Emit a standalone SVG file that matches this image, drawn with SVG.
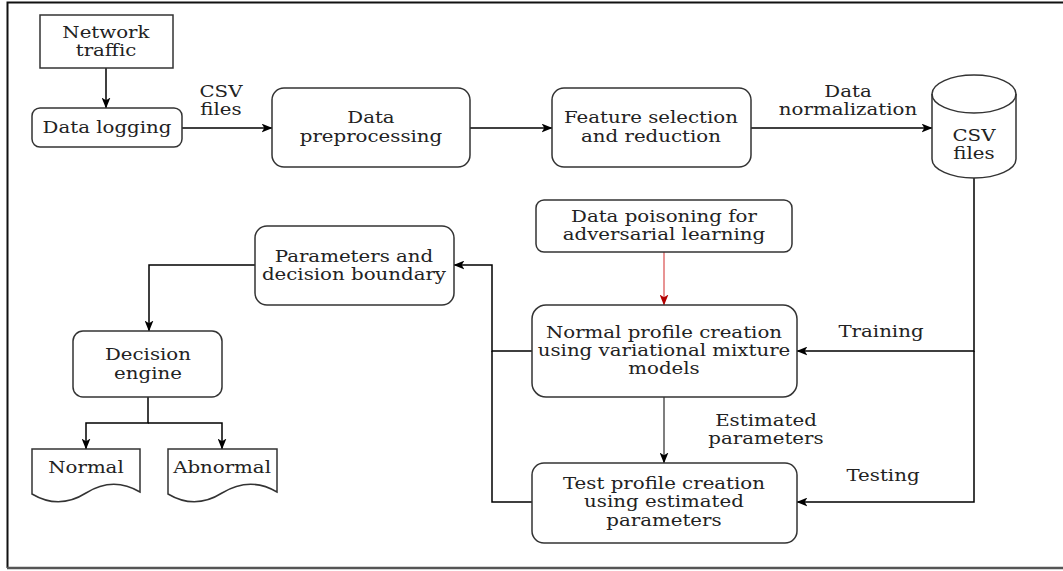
<svg xmlns="http://www.w3.org/2000/svg" width="1063" height="571" viewBox="0 0 1063 571">
<defs>
<style>
.box{fill:#fff;stroke:#333;stroke-width:1.5}
.t{font-family:"DejaVu Serif",serif;font-size:17.5px;fill:#222;text-anchor:middle;transform-box:fill-box;transform-origin:center;transform:scaleX(1.13)}
.c{fill:none;stroke:#000;stroke-width:1.5}
</style>
<marker id="ah" viewBox="0 0 10 8" markerWidth="11" markerHeight="9" refX="9.5" refY="4" orient="auto" markerUnits="userSpaceOnUse">
<path d="M0,0 L10,4 L0,8 L2.5,4 Z" fill="#000"/>
</marker>
<marker id="ahr" viewBox="0 0 10 8" markerWidth="11" markerHeight="9" refX="9.5" refY="4" orient="auto" markerUnits="userSpaceOnUse">
<path d="M0,0 L10,4 L0,8 L2.5,4 Z" fill="#b20000"/>
</marker>
</defs>
<rect width="1063" height="571" fill="#fff"/>
<g id="frame" fill="none">
<path d="M7.5,568 V2.5 H1063" stroke="#111" stroke-width="2"/>
<path d="M7,568 H1063" stroke="#555" stroke-width="2.5"/>
</g>
<g id="connectors">
<path class="c" d="M106,68 V108" marker-end="url(#ah)"/>
<path class="c" d="M182,128 H272" marker-end="url(#ah)"/>
<path class="c" d="M470,128 H552" marker-end="url(#ah)"/>
<path class="c" d="M751,128 H932" marker-end="url(#ah)"/>
<path class="c" d="M974,178 V351 H797" marker-end="url(#ah)"/>
<path class="c" d="M974,351 V502 H797" marker-end="url(#ah)"/>
<path d="M664,252 V305" fill="none" stroke="#e07070" stroke-width="1.5" marker-end="url(#ahr)"/>
<path d="M664,397 V463" fill="none" stroke="#555" stroke-width="1.5" marker-end="url(#ah)"/>
<path class="c" d="M532,351 H492 V265 H454" marker-end="url(#ah)"/>
<path class="c" d="M532,502 H492 V351"/>
<path class="c" d="M255,265 H149 V331" marker-end="url(#ah)"/>
<path class="c" d="M148,397 V423 H86 V449" marker-end="url(#ah)"/>
<path class="c" d="M148,423 H222 V449" marker-end="url(#ah)"/>
<text class="t" x="221" y="97">CSV</text>
<text class="t" x="221" y="115">files</text>
<text class="t" x="848" y="97">Data</text>
<text class="t" x="848" y="115">normalization</text>
<text class="t" x="881" y="337">Training</text>
<text class="t" x="766" y="426">Estimated</text>
<text class="t" x="766" y="444">parameters</text>
<text class="t" x="883" y="481">Testing</text>
</g>
<g id="network-traffic">
<rect class="box" x="40" y="15" width="133" height="53"/>
<text class="t" x="106" y="38">Network</text>
<text class="t" x="106" y="56">traffic</text>
</g>
<g id="data-logging">
<rect class="box" x="32" y="108" width="150" height="39" rx="8"/>
<text class="t" x="107" y="133">Data logging</text>
</g>
<g id="data-preprocessing">
<rect class="box" x="272" y="88" width="198" height="79" rx="12"/>
<text class="t" x="371" y="123">Data</text>
<text class="t" x="371" y="142">preprocessing</text>
</g>
<g id="feature-selection">
<rect class="box" x="552" y="88" width="199" height="79" rx="12"/>
<text class="t" x="651" y="123">Feature selection</text>
<text class="t" x="651" y="142">and reduction</text>
</g>
<g id="csv-files">
<path class="box" d="M932,94 A42,19 0 0 1 1016,94 V159 A42,19 0 0 1 932,159 Z"/>
<path d="M932,94 A42,19 0 0 0 1016,94" fill="none" stroke="#333" stroke-width="1.5"/>
<text class="t" x="974" y="141">CSV</text>
<text class="t" x="974" y="159">files</text>
</g>
<g id="data-poisoning">
<rect class="box" x="536" y="200" width="256" height="52" rx="8"/>
<text class="t" x="664" y="222">Data poisoning for</text>
<text class="t" x="664" y="240">adversarial learning</text>
</g>
<g id="normal-profile">
<rect class="box" x="532" y="305" width="265" height="92" rx="14"/>
<text class="t" x="664" y="338">Normal profile creation</text>
<text class="t" x="664" y="356">using variational mixture</text>
<text class="t" x="664" y="374">models</text>
</g>
<g id="test-profile">
<rect class="box" x="532" y="463" width="265" height="80" rx="12"/>
<text class="t" x="664" y="489">Test profile creation</text>
<text class="t" x="664" y="507">using estimated</text>
<text class="t" x="664" y="526">parameters</text>
</g>
<g id="parameters">
<rect class="box" x="255" y="226" width="199" height="79" rx="12"/>
<text class="t" x="354" y="262">Parameters and</text>
<text class="t" x="354" y="280">decision boundary</text>
</g>
<g id="decision-engine">
<rect class="box" x="73" y="331" width="149" height="66" rx="10"/>
<text class="t" x="148" y="360">Decision</text>
<text class="t" x="148" y="379">engine</text>
</g>
<g id="normal">
<path class="box" d="M32,449 H140 V492 Q113,476 86,493 Q59,510 32,494 Z"/>
<text class="t" x="86" y="473">Normal</text>
</g>
<g id="abnormal">
<path class="box" d="M168,449 H277 V492 Q250,476 222,493 Q195,510 168,494 Z"/>
<text class="t" x="222" y="473">Abnormal</text>
</g>
</svg>
